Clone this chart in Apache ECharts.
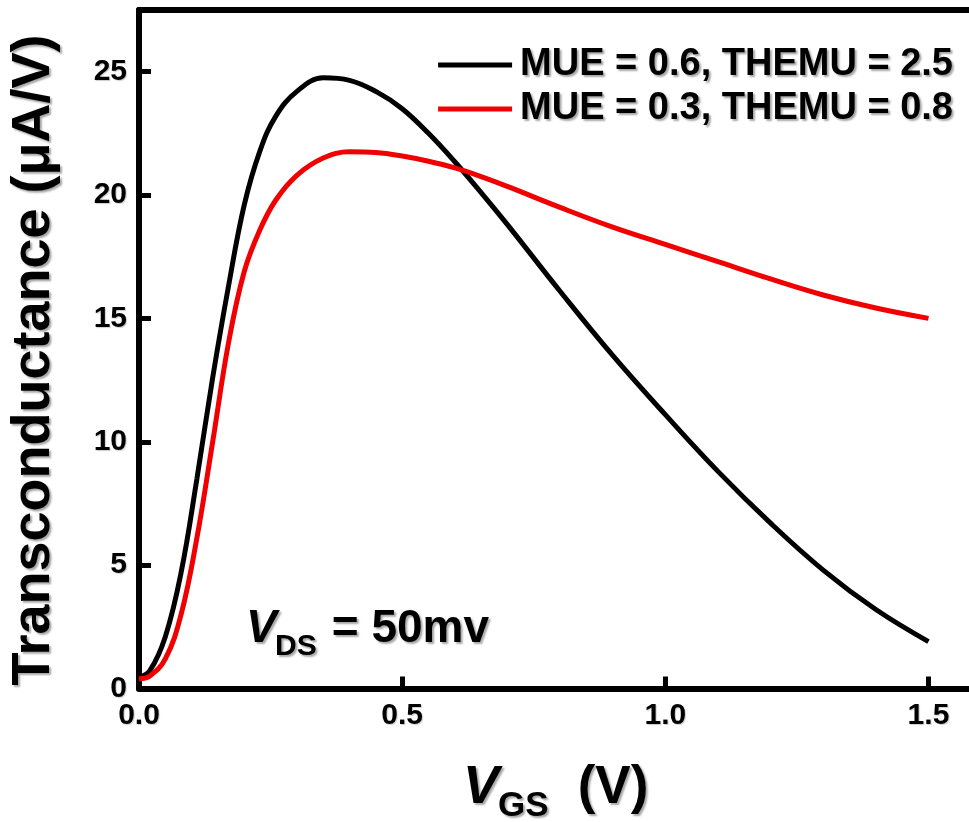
<!DOCTYPE html>
<html><head><meta charset="utf-8">
<script src="https://cdn.jsdelivr.net/npm/echarts@6/dist/echarts.min.js"></script>
<style>html,body{margin:0;padding:0;background:#fff}#c{width:969px;height:822px}</style>
</head><body><div id="c"></div>
<script>
// Gate voltage (V)
const vgs = [0, 0.02, 0.05, 0.08, 0.11, 0.14, 0.17, 0.2, 0.23, 0.26, 0.3, 0.35, 0.4, 0.45, 0.5, 0.55, 0.6, 0.65, 0.7, 0.8, 0.9, 1.0, 1.1, 1.2, 1.3, 1.4, 1.5];
// Transconductance (uA/V), MUE = 0.6, THEMU = 2.5
const gmA = [0.45, 0.7, 2.1, 4.7, 8.5, 12.6, 16.3, 19.6, 21.8, 23.2, 24.2, 24.75, 24.65, 24.2, 23.5, 22.5, 21.35, 20.1, 18.8, 16.1, 13.5, 11.1, 8.8, 6.7, 4.8, 3.2, 1.9];
// Transconductance (uA/V), MUE = 0.3, THEMU = 0.8
const gmB = [0.4, 0.5, 1.2, 3.0, 6.1, 10.0, 14.0, 16.9, 18.6, 19.8, 20.8, 21.5, 21.75, 21.72, 21.58, 21.37, 21.1, 20.75, 20.35, 19.5, 18.7, 18.0, 17.3, 16.6, 15.95, 15.42, 15.0];
const seriesNames = ['MUE = 0.6, THEMU = 2.5', 'MUE = 0.3, THEMU = 0.8'];
const seriesColors = ['#000000', '#f00000'];
const yTitle = 'Transconductance (μA/V)';

const FF = '"Liberation Sans", Arial, sans-serif';
const shadow = {textShadowColor: 'rgba(0,0,0,0.35)', textShadowOffsetX: 2, textShadowOffsetY: 2, textShadowBlur: 2};
const lightShadow = {textShadowColor: 'rgba(0,0,0,0.2)', textShadowOffsetX: 1, textShadowOffsetY: 1, textShadowBlur: 1};

const chart = echarts.init(document.getElementById('c'), null, {renderer: 'canvas'});
const pairs = arr => vgs.map((x, i) => [x, arr[i]]);

chart.setOption({
  backgroundColor: '#fff',
  animation: false,
  grid: {left: 139, right: -3, top: 10, bottom: 133.5, containLabel: false},
  legend: {
    orient: 'vertical', right: 11, top: 41,
    itemWidth: 74, itemHeight: 5, itemGap: 6, icon: 'rect',
    data: seriesNames,
    textStyle: Object.assign({fontFamily: FF, fontWeight: 'bold', fontSize: 38, color: '#000', padding: [0, 0, 0, 3]}, shadow)
  },
  xAxis: [{
    type: 'value', min: 0, max: 1.577, interval: 0.5, position: 'bottom',
    axisLine: {show: true, onZero: false, lineStyle: {color: '#000', width: 6}},
    axisTick: {show: true, inside: true, length: 12, lineStyle: {color: '#000', width: 5}},
    splitLine: {show: false},
    axisLabel: Object.assign({show: true, margin: 12, fontFamily: FF, fontWeight: 'bold', fontSize: 30, color: '#000', showMaxLabel: false,
      formatter: v => (Math.abs(v * 2 - Math.round(v * 2)) < 1e-9 ? v.toFixed(1) : '')}, lightShadow)
  }, {
    type: 'value', min: 0, max: 1.577, position: 'top',
    axisLine: {show: true, onZero: false, lineStyle: {color: '#000', width: 6}},
    axisTick: {show: false}, axisLabel: {show: false}, splitLine: {show: false}
  }],
  yAxis: [{
    type: 'value', min: 0, max: 27.5, interval: 5,
    axisLine: {show: true, onZero: false, lineStyle: {color: '#000', width: 6}},
    axisTick: {show: true, inside: true, length: 12, lineStyle: {color: '#000', width: 5}},
    splitLine: {show: false},
    axisLabel: Object.assign({show: true, margin: 12, fontFamily: FF, fontWeight: 'bold', fontSize: 30, color: '#000', showMaxLabel: false,
      formatter: v => (v % 5 === 0 ? String(v) : '')}, lightShadow)
  }],
  series: [
    {name: seriesNames[0], type: 'line', data: pairs(gmA), smooth: 0.4, showSymbol: false, symbol: 'none',
      lineStyle: {color: seriesColors[0], width: 5}, itemStyle: {color: seriesColors[0]}, z: 2},
    {name: seriesNames[1], type: 'line', data: pairs(gmB), smooth: 0.4, showSymbol: false, symbol: 'none',
      lineStyle: {color: seriesColors[1], width: 5}, itemStyle: {color: seriesColors[1]}, z: 3}
  ],
  graphic: [
    {type: 'text', x: 34, y: 360, rotation: Math.PI / 2, z: 10,
      style: Object.assign({text: yTitle, font: 'bold 54px ' + FF, fill: '#000', align: 'center', verticalAlign: 'middle', textAlign: 'center', textVerticalAlign: 'middle'}, shadow)},
    {type: 'text', x: 463, y: 788, z: 10,
      style: Object.assign({text: 'V', font: 'italic bold 54px ' + FF, fill: '#000', align: 'left', verticalAlign: 'middle'}, shadow)},
    {type: 'text', x: 498, y: 806, z: 10,
      style: Object.assign({text: 'GS', font: 'bold 35px ' + FF, fill: '#000', align: 'left', verticalAlign: 'middle'}, shadow)},
    {type: 'text', x: 563, y: 788, z: 10,
      style: Object.assign({text: ' (V)', font: 'bold 53px ' + FF, fill: '#000', align: 'left', verticalAlign: 'middle'}, shadow)},
    {type: 'text', x: 246, y: 629, z: 10,
      style: Object.assign({text: 'V', font: 'italic bold 46px ' + FF, fill: '#000', align: 'left', verticalAlign: 'middle'}, shadow)},
    {type: 'text', x: 275, y: 646.6, z: 10,
      style: Object.assign({text: 'DS', font: 'bold 30px ' + FF, fill: '#000', align: 'left', verticalAlign: 'middle'}, shadow)},
    {type: 'text', x: 319, y: 629, z: 10,
      style: Object.assign({text: ' = 50mv', font: 'bold 46px ' + FF, fill: '#000', align: 'left', verticalAlign: 'middle'}, shadow)}
  ]
});
</script></body></html>
